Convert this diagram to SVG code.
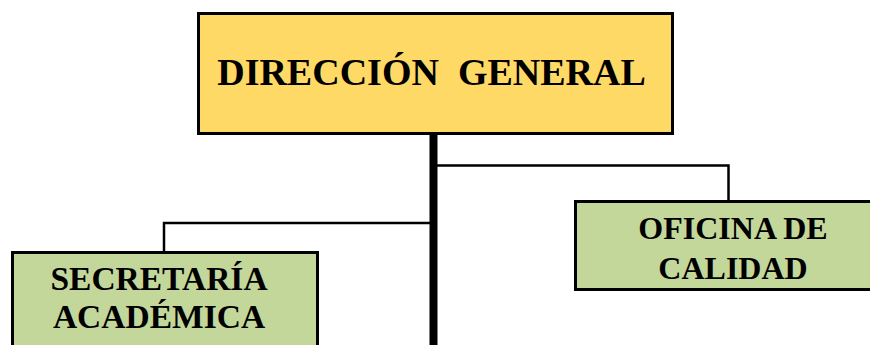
<svg xmlns="http://www.w3.org/2000/svg" width="870" height="345" viewBox="0 0 870 345">
<style>
.box{stroke:#000;stroke-width:3}
.y{fill:#FFD966}
.g{fill:#C4D79B}
.t{font-family:"Liberation Serif","Times New Roman",serif;font-weight:bold;fill:#000;text-anchor:middle}
.c{fill:none;stroke:#000;stroke-width:2.5}
</style>
<rect width="870" height="345" fill="#fff"/>
<g id="connectors">
<line x1="433.5" y1="134" x2="433.5" y2="345" stroke="#000" stroke-width="8"/>
<polyline class="c" points="437,165.5 728.5,165.5 728.5,201"/>
<polyline class="c" points="430,223 164,223 164,252"/>
</g>
<g id="direccion">
<rect class="box y" x="198.5" y="13.5" width="474" height="120"/>
<text class="t" x="431.5" y="85" font-size="38" xml:space="preserve">DIRECCIÓN  GENERAL</text>
</g>
<g id="oficina">
<rect class="box g" x="575.5" y="201.5" width="310" height="88"/>
<text class="t" x="733" y="239" font-size="32">OFICINA DE</text>
<text class="t" x="733" y="279" font-size="32">CALIDAD</text>
</g>
<g id="secretaria">
<rect class="box g" x="12.5" y="252.5" width="305" height="100"/>
<text class="t" x="159" y="290" font-size="33.5">SECRETARÍA</text>
<text class="t" x="159" y="328" font-size="33.5">ACADÉMICA</text>
</g>
</svg>
